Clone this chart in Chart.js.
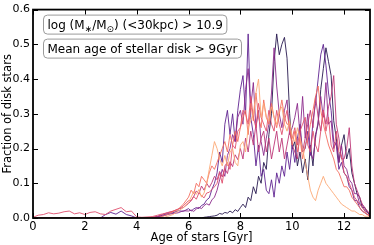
<!DOCTYPE html>
<html><head><meta charset="utf-8">
<script src="https://cdn.jsdelivr.net/npm/chart.js@4.4.1/dist/chart.umd.min.js"></script>
<style>html,body{margin:0;padding:0;background:#fff}canvas{display:block}</style>
</head><body>
<canvas id="c" width="374" height="245"></canvas>
<script>
const ages = [0,0.2,0.4,0.6,0.8,1,1.2,1.4,1.6,1.8,2,2.2,2.4,2.6,2.8,3,3.2,3.4,3.6,3.8,4,4.2,4.4,4.6,4.8,5,5.2,5.4,5.6,5.8,6,
6.1,6.2,6.3,6.4,6.5,6.6,6.7,6.8,6.9,7,
7.1,7.2,7.3,7.4,7.5,7.6,7.7,7.8,7.9,8,
8.1,8.2,8.3,8.4,8.5,8.6,8.7,8.8,8.9,9,
9.1,9.2,9.3,9.4,9.5,9.6,9.7,9.8,9.9,10,
10.1,10.2,10.3,10.4,10.5,10.6,10.7,10.8,10.9,11,
11.1,11.2,11.3,11.4,11.5,11.6,11.7,11.8,11.9,12,
12.1,12.2,12.3,12.4,12.5,12.6,12.7,12.8,12.9,13];

const navy = [0,0,0,0,0,0,0,0,0,0,0,0,0,0,0,0,0,0,0,0,0,0,0,0,0,0,0,0,0,0,0,
0,0,0,0,0,0.002,0.003,0.004,0.005,0.006,
0.008,0.013,0.011,0.016,0.014,0.02,0.015,0.024,0.019,0.03,
0.04,0.03,0.06,0.05,0.09,0.07,0.12,0.1,0.16,0.14,
0.24,0.3,0.45,0.53,0.47,0.5,0.52,0.46,0.3,0.2,
0.22,0.15,0.19,0.13,0.17,0.11,0.21,0.15,0.24,0.27,
0.37,0.43,0.49,0.45,0.41,0.28,0.23,0.16,0.21,0.24,
0.17,0.2,0.13,0.1,0.07,0.06,0.03,0.03,0.015,0.01];

const purple = [0,0,0,0,0,0,0,0,0,0,0,0,0,0,0.01,0.016,0.011,0.02,0.01,0.006,0,0,0,0,0.004,0.008,0.013,0.015,0.021,0.019,0.027,
0.02,0.026,0.03,0.027,0.036,0.04,0.052,0.058,0.082,0.1,
0.13,0.19,0.16,0.27,0.31,0.24,0.3,0.22,0.31,0.37,
0.41,0.3,0.53,0.29,0.24,0.15,0.21,0.12,0.14,0.08,
0.07,0.11,0.06,0.13,0.1,0.15,0.12,0.19,0.14,0.21,
0.16,0.23,0.27,0.19,0.2,0.25,0.18,0.28,0.33,0.4,
0.47,0.5,0.44,0.36,0.31,0.22,0.21,0.14,0.16,0.13,
0.12,0.09,0.08,0.05,0.05,0.03,0.02,0.015,0.01,0.005];

const violet = [0,0,0,0,0,0,0,0,0,0,0,0,0,0,0,0,0,0,0,0,0,0,0,0,0.003,0.006,0.01,0.013,0.015,0.021,0.02,
0.023,0.019,0.026,0.031,0.027,0.036,0.041,0.037,0.052,0.06,
0.08,0.11,0.14,0.12,0.18,0.2,0.24,0.22,0.29,0.31,
0.27,0.37,0.43,0.32,0.39,0.26,0.31,0.22,0.18,0.23,
0.27,0.36,0.49,0.38,0.3,0.26,0.31,0.34,0.24,0.26,
0.29,0.33,0.24,0.35,0.23,0.3,0.19,0.17,0.23,0.28,
0.35,0.29,0.39,0.27,0.28,0.2,0.22,0.16,0.21,0.15,
0.14,0.11,0.1,0.07,0.07,0.04,0.04,0.02,0.02,0.01];

const magenta = [0,0,0,0,0,0,0,0,0,0,0,0,0,0,0,0,0,0,0,0,0,0,0,0.002,0.005,0.01,0.016,0.019,0.026,0.03,0.042,
0.05,0.062,0.078,0.07,0.092,0.08,0.1,0.088,0.102,0.12,
0.11,0.134,0.118,0.142,0.128,0.162,0.148,0.182,0.168,0.2,
0.17,0.23,0.19,0.25,0.21,0.27,0.19,0.23,0.25,0.19,
0.23,0.17,0.21,0.25,0.19,0.23,0.17,0.21,0.25,0.21,
0.19,0.17,0.25,0.19,0.23,0.27,0.31,0.26,0.35,0.29,
0.25,0.31,0.27,0.32,0.35,0.41,0.27,0.23,0.17,0.17,
0.2,0.26,0.15,0.1,0.08,0.06,0.04,0.03,0.02,0.01];

const pink = [0.002,0.008,0.01,0.015,0.012,0.014,0.018,0.02,0.012,0.015,0.01,0.016,0.018,0.012,0.01,0.02,0.025,0.03,0.018,0.02,0.003,0.002,0.003,0.004,0.008,0.012,0.015,0.02,0.025,0.035,0.05,
0.05,0.062,0.054,0.072,0.064,0.058,0.072,0.074,0.082,0.09,
0.1,0.13,0.1,0.15,0.16,0.14,0.21,0.2,0.25,0.26,
0.31,0.3,0.27,0.35,0.29,0.26,0.33,0.29,0.27,0.25,
0.31,0.27,0.25,0.31,0.27,0.24,0.28,0.31,0.25,0.23,
0.26,0.21,0.25,0.27,0.29,0.21,0.19,0.25,0.21,0.19,
0.25,0.31,0.25,0.29,0.21,0.19,0.25,0.19,0.18,0.13,
0.12,0.1,0.08,0.06,0.05,0.04,0.03,0.02,0.01,0.01];

const salmon = [0,0,0,0,0,0,0,0,0,0,0,0,0,0,0,0,0,0,0,0,0,0,0,0,0,0.005,0.01,0.018,0.025,0.04,0.06,
0.08,0.07,0.1,0.09,0.12,0.11,0.1,0.13,0.15,0.14,
0.16,0.18,0.2,0.22,0.19,0.24,0.21,0.25,0.22,0.26,
0.29,0.31,0.24,0.33,0.28,0.36,0.29,0.26,0.34,0.29,
0.27,0.33,0.29,0.26,0.3,0.34,0.29,0.27,0.27,0.21,
0.25,0.19,0.23,0.17,0.21,0.23,0.27,0.31,0.35,0.38,
0.31,0.27,0.24,0.21,0.19,0.17,0.14,0.13,0.11,0.09,
0.09,0.08,0.06,0.05,0.04,0.03,0.02,0.015,0.01,0.005];

const orange = [0,0,0,0,0,0,0,0,0,0,0,0,0,0,0,0,0,0,0,0,0,0,0,0,0,0,0.005,0.01,0.02,0.03,0.045,
0.06,0.076,0.068,0.082,0.06,0.072,0.1,0.14,0.18,0.22,
0.2,0.17,0.15,0.18,0.15,0.19,0.2,0.16,0.15,0.21,
0.22,0.19,0.26,0.28,0.3,0.36,0.4,0.29,0.33,0.29,
0.28,0.32,0.29,0.27,0.31,0.32,0.27,0.25,0.28,0.23,
0.22,0.26,0.23,0.2,0.16,0.12,0.08,0.06,0.05,0.08,
0.1,0.12,0.1,0.09,0.08,0.07,0.06,0.05,0.04,0.035,
0.03,0.025,0.02,0.02,0.015,0.01,0.01,0.005,0.005,0.002];

const seriesList = [
  {vals: orange,  color: 'rgba(252,168,118,0.9)'},
  {vals: salmon,  color: 'rgba(244,110,96,0.9)'},
  {vals: pink,    color: 'rgba(224,80,110,0.9)'},
  {vals: magenta, color: 'rgba(190,55,120,0.9)'},
  {vals: violet,  color: 'rgba(140,42,140,0.9)'},
  {vals: purple,  color: 'rgba(95,35,145,0.9)'},
  {vals: navy,    color: 'rgba(40,25,80,0.9)'}
];

const xTicks = [0,2,4,6,8,10,12];
const yTicks = [0,0.1,0.2,0.3,0.4,0.5,0.6];
const xTitle = 'Age of stars [Gyr]';
const yTitle = 'Fraction of disk stars';
const box1 = [['log (M',0],['∗',1],['/M',0],['⊙',1],[') (<30kpc) > 10.9',0]];
const box2 = [['Mean age of stellar disk > 9Gyr',0]];

const FONT = "'DejaVu Sans', sans-serif";

const framePlugin = {
  id: 'frame',
  afterDatasetsDraw(chart) {
    const {ctx, chartArea: a, scales} = chart;
    ctx.save();
    ctx.strokeStyle = '#000';
    ctx.lineWidth = 1;
    const tl = 5;
    ctx.beginPath();
    xTicks.forEach(v => {
      const px = Math.round(scales.x.getPixelForValue(v)) + 0.5;
      ctx.moveTo(px, a.bottom); ctx.lineTo(px, a.bottom - tl);
      ctx.moveTo(px, a.top); ctx.lineTo(px, a.top + tl);
    });
    yTicks.forEach(v => {
      const py = Math.round(scales.y.getPixelForValue(v)) + 0.5;
      ctx.moveTo(a.left, py); ctx.lineTo(a.left + tl, py);
      ctx.moveTo(a.right, py); ctx.lineTo(a.right - tl, py);
    });
    ctx.stroke();
    ctx.lineWidth = 1.8;
    ctx.strokeRect(a.left, a.top, a.right - a.left, a.bottom - a.top);
    ctx.restore();
  },
  afterDraw(chart) {
    const {ctx, chartArea: a} = chart;
    const drawBox = (parts, x, y) => {
      ctx.save();
      let w = 0;
      parts.forEach(([t, s]) => { ctx.font = (s ? '9px ' : '12px ') + FONT; w += ctx.measureText(t).width; });
      const h = 19, pad = 4;
      const bw = w + pad * 2;
      ctx.beginPath();
      ctx.roundRect(x + 0.5, y + 0.5, bw, h, 4);
      ctx.fillStyle = 'rgba(255,255,255,0.85)';
      ctx.fill();
      ctx.strokeStyle = '#9a9a9a';
      ctx.lineWidth = 1;
      ctx.stroke();
      ctx.fillStyle = '#000';
      ctx.textBaseline = 'alphabetic';
      let cx = x + pad + 0.5;
      parts.forEach(([t, s]) => {
        ctx.font = (s ? '9px ' : '12px ') + FONT;
        ctx.fillText(t, cx, y + 14 + (s ? 3 : 0));
        cx += ctx.measureText(t).width;
      });
      ctx.restore();
    };
    drawBox(box1, a.left + 10, a.top + 5);
    drawBox(box2, a.left + 10, a.top + 29);
  }
};

new Chart(document.getElementById('c'), {
  type: 'line',
  data: {
    datasets: seriesList.map(s => ({
      data: ages.map((a, i) => ({x: a, y: s.vals[i]})),
      borderColor: s.color,
      borderWidth: 1,
      pointRadius: 0,
      tension: 0,
      fill: false
    }))
  },
  options: {
    responsive: false,
    animation: false,
    layout: {padding: {top: 8, right: 4, left: 0, bottom: 0}},
    plugins: {legend: {display: false}, tooltip: {enabled: false}},
    scales: {
      x: {
        type: 'linear', min: 0, max: 13,
        afterBuildTicks: s => { s.ticks = xTicks.map(v => ({value: v})); },
        afterFit: s => { s.height = 27; },
        grid: {display: false, drawTicks: false},
        border: {display: false},
        ticks: {padding: 2, autoSkip: false, maxRotation: 0, color: '#000', font: {family: FONT, size: 11.5},
          callback: v => String(v)},
        title: {display: true, text: xTitle, color: '#000', font: {family: FONT, size: 11.5}, padding: {top: 0, bottom: 0}}
      },
      y: {
        type: 'linear', min: 0, max: 0.6,
        afterBuildTicks: s => { s.ticks = yTicks.map(v => ({value: v})); },
        afterFit: s => { s.width = 33; },
        grid: {display: false, drawTicks: false},
        border: {display: false},
        ticks: {padding: 3, autoSkip: false, color: '#000', font: {family: FONT, size: 11},
          callback: v => v.toFixed(1)},
        title: {display: true, text: yTitle, color: '#000', font: {family: FONT, size: 11.5}, padding: {top: 1, bottom: 0}}
      }
    }
  },
  plugins: [framePlugin]
});
</script>
</body></html>
